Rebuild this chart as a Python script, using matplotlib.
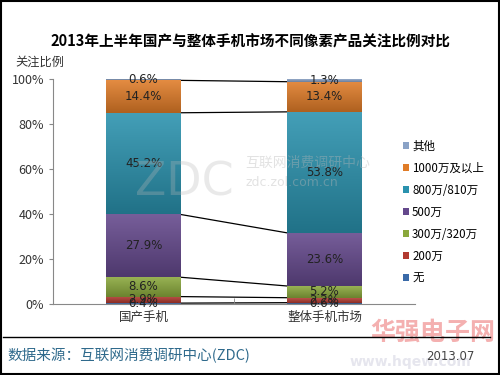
import numpy as np
import matplotlib.pyplot as plt
from matplotlib.lines import Line2D
from matplotlib.patches import Rectangle
from matplotlib.colors import to_rgb

plt.rcParams['font.family'] = ['Noto Sans CJK SC', 'DejaVu Sans']

# data
categories = ['国产手机', '整体手机市场']
series = ['无', '200万', '300万/320万', '500万', '800万/810万', '1000万及以上', '其他']
domestic = [0.4, 2.9, 8.6, 27.9, 45.2, 14.4, 0.6]
overall = [0.6, 2.2, 5.2, 23.6, 53.8, 13.4, 1.3]
colors = ['#3a6aa8', '#b23a30', '#8aa83c', '#64488c', '#2a92ae', '#e07c28', '#8aa2c6']


def grad(c, n=64):
    # light at top, darker at bottom
    c = np.array(to_rgb(c))
    top = c + (1 - c) * 0.12
    bot = c * 0.78
    t = np.linspace(0, 1, n)[:, None]
    return (top * (1 - t) + bot * t)[:, None, :]


fig = plt.figure(figsize=(5, 3.75), dpi=100)
ax = fig.add_axes([0.106, 0.1893, 0.724, 0.6])

x = np.arange(len(categories))
w = 0.41
data = np.array([domestic, overall])
bottoms = np.zeros(2)
for i, name in enumerate(series):
    vals = data[:, i]
    ax.bar(x, vals, w, bottom=bottoms, color=colors[i], label=name, zorder=2)
    for j in range(2):
        ax.imshow(grad(colors[i]), extent=[x[j] - w / 2, x[j] + w / 2, bottoms[j], bottoms[j] + vals[j]],
                  aspect='auto', zorder=2.5, interpolation='bilinear')
        ax.text(x[j], bottoms[j] + vals[j] / 2, f'{vals[j]:.1f}%', ha='center', va='center',
                fontsize=8.5, color='#222222', family=['DejaVu Sans'], zorder=4)
    bottoms = bottoms + vals
    # series lines between the bars
    if i < len(series) - 1:
        ax.plot([x[0] + w / 2, x[1] - w / 2], [bottoms[0], bottoms[1]], color='black', lw=0.9, zorder=1)
ax.plot([x[0] + w / 2, x[1] - w / 2], [0, 0], color='black', lw=0.9, zorder=1)

ax.set_xlim(-0.5, 1.5)
ax.set_ylim(0, 100)
ax.set_yticks(np.arange(0, 101, 20))
ax.set_yticklabels([f'{v}%' for v in range(0, 101, 20)], fontsize=9, color='#333333')
ax.set_xticks(x)
ax.set_xticklabels(categories, fontsize=9, color='#333333')
ax.set_xticks([0.5], minor=True)
ax.tick_params(axis='x', which='major', length=0, pad=5)
ax.tick_params(axis='x', which='minor', length=4, direction='in', color='#888888')
ax.tick_params(axis='y', length=3, color='#888888')
for s in ['top', 'right']:
    ax.spines[s].set_visible(False)
for s in ['left', 'bottom']:
    ax.spines[s].set_color('#888888')

handles, labels = ax.get_legend_handles_labels()
fig.legend(handles[::-1], labels[::-1], loc='upper left', bbox_to_anchor=(0.785, 0.655),
           frameon=False, fontsize=8.3, handlelength=0.55, handleheight=0.55,
           handletextpad=0.25, labelspacing=0.78)

# watermark
fig.text(0.27, 0.48, 'ZDC', fontsize=33, color='#b8b8b8', alpha=0.3, family=['DejaVu Sans'], zorder=0)
fig.text(0.49, 0.555, '互联网消费调研中心', fontsize=10, color='#b8b8b8', alpha=0.4, zorder=0)
fig.text(0.49, 0.505, 'zdc.zol.com.cn', fontsize=9, color='#b8b8b8', alpha=0.4,
         family=['DejaVu Sans'], zorder=0)

fig.text(0.5, 0.875, '2013年上半年国产与整体手机市场不同像素产品关注比例对比',
         ha='center', fontsize=10.5, fontweight='bold', color='black')
fig.text(0.03, 0.825, '关注比例', fontsize=8.8, color='#333333')

# footer
fig.add_artist(Line2D([0.005, 0.98], [0.101, 0.101], color='black', lw=1))
fig.text(0.74, 0.095, '华强电子网', fontsize=18, color='#f4b0b0', fontweight='bold', zorder=0)
fig.text(0.70, 0.025, 'www.hqew.com', fontsize=10, color='#e6e6ee', fontweight='bold',
         family=['DejaVu Sans'], zorder=0)
fig.text(0.015, 0.04, '数据来源：互联网消费调研中心(ZDC)', fontsize=10.5, color='#2f6a8c')
fig.text(0.852, 0.04, '2013.07', fontsize=8.5, color='#444444', family=['DejaVu Sans'])

fig.add_artist(Rectangle((0.002, 0.003), 0.996, 0.994, fill=False, ec='black', lw=1.5,
                         transform=fig.transFigure))

fig.savefig('out.png', dpi=100)
